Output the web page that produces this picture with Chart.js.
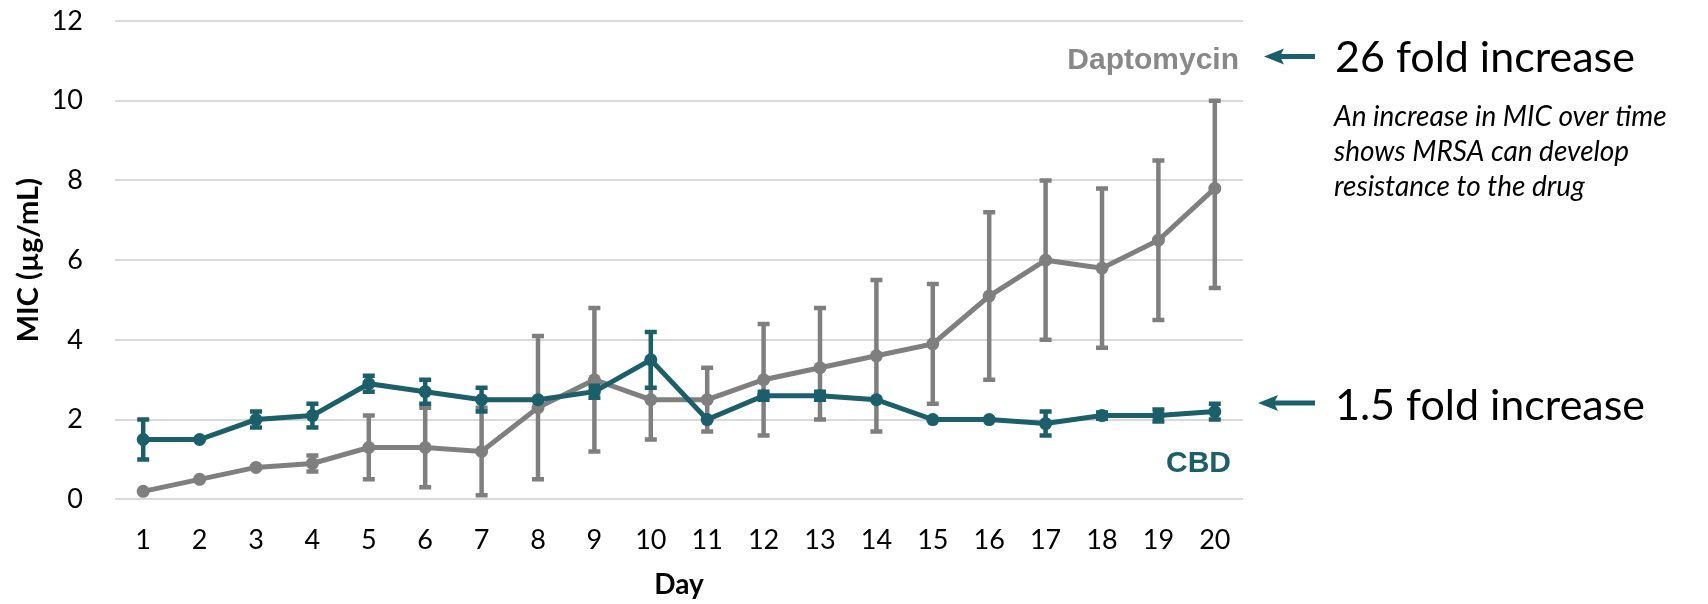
<!DOCTYPE html>
<html>
<head>
<meta charset="utf-8">
<title>MIC over time</title>
<script src="https://cdn.jsdelivr.net/npm/chart.js@4.4.0/dist/chart.umd.min.js"></script>
<style>
  body { margin: 0; background: #fff; }
  #wrap { width: 1708px; height: 604px; }
</style>
</head>
<body>
<div id="wrap"><canvas id="mainChart" width="1708" height="604"></canvas></div>
<script>
// Data
var days = ["1","2","3","4","5","6","7","8","9","10","11","12","13","14","15","16","17","18","19","20"];

var daptoMean = [0.2, 0.5, 0.8, 0.9, 1.3, 1.3, 1.2, 2.3, 3.0, 2.5, 2.5, 3.0, 3.3, 3.6, 3.9, 5.1, 6.0, 5.8, 6.5, 7.8];
var daptoLow  = [0.2, 0.5, 0.8, 0.7, 0.5, 0.3, 0.1, 0.5, 1.2, 1.5, 1.7, 1.6, 2.0, 1.7, 2.4, 3.0, 4.0, 3.8, 4.5, 5.3];
var daptoHigh = [0.2, 0.5, 0.8, 1.1, 2.1, 2.3, 2.3, 4.1, 4.8, 3.5, 3.3, 4.4, 4.8, 5.5, 5.4, 7.2, 8.0, 7.8, 8.5, 10.0];

var cbdMean = [1.5, 1.5, 2.0, 2.1, 2.9, 2.7, 2.5, 2.5, 2.7, 3.5, 2.0, 2.6, 2.6, 2.5, 2.0, 2.0, 1.9, 2.1, 2.1, 2.2];
var cbdLow  = [1.0, 1.5, 1.8, 1.8, 2.7, 2.4, 2.2, 2.5, 2.55, 2.8, 2.0, 2.5, 2.5, 2.5, 2.0, 2.0, 1.6, 2.02, 1.95, 2.0];
var cbdHigh = [2.0, 1.5, 2.2, 2.4, 3.1, 3.0, 2.8, 2.5, 2.85, 4.2, 2.0, 2.7, 2.7, 2.5, 2.0, 2.0, 2.2, 2.18, 2.25, 2.4];

var yTicks = [0, 2, 4, 6, 8, 10, 12];

var GRAY = '#7f7f7f';
var TEAL = '#1b5f6b';

//Error bars drawn right after each dataset
var errorBars = {
  id: 'errorBars',
  afterDatasetDraw: function(chart, args) {
    var ds = chart.data.datasets[args.index];
    if (!ds.errLow) return;
    var ctx = chart.ctx;
    var yScale = chart.scales.y;
    ctx.save();
    ctx.strokeStyle = ds.borderColor;
    ctx.lineWidth = 4.5;
    ctx.lineCap = 'butt';
    args.meta.data.forEach(function(pt, i) {
      var lo = ds.errLow[i], hi = ds.errHigh[i];
      if (lo == hi) return;
      var yl = yScale.getPixelForValue(lo);
      var yh = yScale.getPixelForValue(hi);
      ctx.beginPath();
      ctx.moveTo(pt.x, yl); ctx.lineTo(pt.x, yh);
      ctx.moveTo(pt.x - 6, yl); ctx.lineTo(pt.x + 6, yl);
      ctx.moveTo(pt.x - 6, yh); ctx.lineTo(pt.x + 6, yh);
      ctx.stroke();
    });
    ctx.restore();
  }
};

function drawArrow(ctx, tipX, endX, y) {
  ctx.save();
  ctx.fillStyle = TEAL;
  ctx.strokeStyle = TEAL;
  ctx.lineWidth = 5;
  ctx.beginPath();
  ctx.moveTo(tipX + 14, y);
  ctx.lineTo(endX, y);
  ctx.stroke();
  ctx.beginPath();
  ctx.moveTo(tipX, y);
  ctx.lineTo(tipX + 20, y - 8);
  ctx.lineTo(tipX + 16, y);
  ctx.lineTo(tipX + 20, y + 8);
  ctx.closePath();
  ctx.fill();
  ctx.restore();
}

//Labels, arrows and notes
var notes = {
  id: 'notes',
  afterDraw: function(chart) {
    var ctx = chart.ctx;
    var area = chart.chartArea;
    ctx.save();
    ctx.textBaseline = 'alphabetic';

    ctx.textAlign = 'right';
    ctx.font = 'bold 30px "Liberation Sans", Arial, sans-serif';
    ctx.fillStyle = '#888888';
    ctx.fillText('Daptomycin', area.right - 4, 69);
    ctx.fillStyle = TEAL;
    ctx.fillText('CBD', area.right - 12, 472);

    drawArrow(ctx, area.right + 21, area.right + 72, 56.5);
    drawArrow(ctx, area.right + 15, area.right + 72, 403);

    ctx.textAlign = 'left';
    ctx.fillStyle = '#000';
    ctx.font = '43px Lato, sans-serif';
    ctx.fillText('26 fold increase', area.right + 92, 72);
    ctx.fillText('1.5 fold increase', area.right + 92, 420);

    ctx.font = 'italic 28px Lato, sans-serif';
    ctx.fillText('An increase in MIC over time', area.right + 91, 126);
    ctx.fillText('shows MRSA can develop', area.right + 91, 161);
    ctx.fillText('resistance to the drug', area.right + 91, 196);
    ctx.restore();
  }
};

var ctx = document.getElementById('mainChart').getContext('2d');
var chart = new Chart(ctx, {
  type: 'line',
  data: {
    labels: days,
    datasets: [{
      label: 'Daptomycin',
      data: daptoMean,
      errLow: daptoLow,
      errHigh: daptoHigh,
      borderColor: GRAY,
      backgroundColor: GRAY,
      pointBackgroundColor: GRAY,
      borderWidth: 5,
      pointRadius: 6.5,
      pointBorderWidth: 0,
      tension: 0,
      order: 2
    }, {
      label: 'CBD',
      data: cbdMean,
      errLow: cbdLow,
      errHigh: cbdHigh,
      borderColor: TEAL,
      backgroundColor: TEAL,
      pointBackgroundColor: TEAL,
      borderWidth: 5,
      pointRadius: 6.5,
      pointBorderWidth: 0,
      tension: 0,
      order: 1
    }]
  },
  options: {
    responsive: false,
    animation: false,
    layout: { padding: { left: 0, right: 465, top: 21, bottom: 0 } },
    plugins: {
      legend: { display: false },
      tooltip: { enabled: false }
    },
    scales: {
      x: {
        offset: true,
        grid: { display: false, drawTicks: false },
        border: { display: false },
        ticks: { color: '#000', padding: 25, font: { family: 'Lato', size: 27 } },
        title: { display: true, text: 'Day', color: '#000', padding: { top: 0, bottom: 2 }, font: { family: 'Lato', size: 28, weight: 'bold' } },
        afterFit: function(scale) { scale.height = 104.7; }
      },
      y: {
        min: 0,
        max: 12,
        afterBuildTicks: function(scale) {
          scale.ticks = yTicks.map(function(v) { return { value: v }; });
        },
        grid: { color: '#d9d9d9', lineWidth: 2, drawTicks: false },
        border: { display: false },
        ticks: { color: '#000', padding: 32, font: { family: 'Lato', size: 27 } },
        title: { display: true, text: 'MIC (µg/mL)', color: '#000', padding: { top: 11, bottom: 0 }, font: { family: 'Lato', size: 29, weight: 'bold' } },
        afterFit: function(scale) {
          scale.width = 115;
          //tick padding should not push the plot down
          scale.paddingTop = 16;
          scale.paddingBottom = 16;
        }
      }
    }
  },
  plugins: [errorBars, notes]
});
</script>
</body>
</html>
